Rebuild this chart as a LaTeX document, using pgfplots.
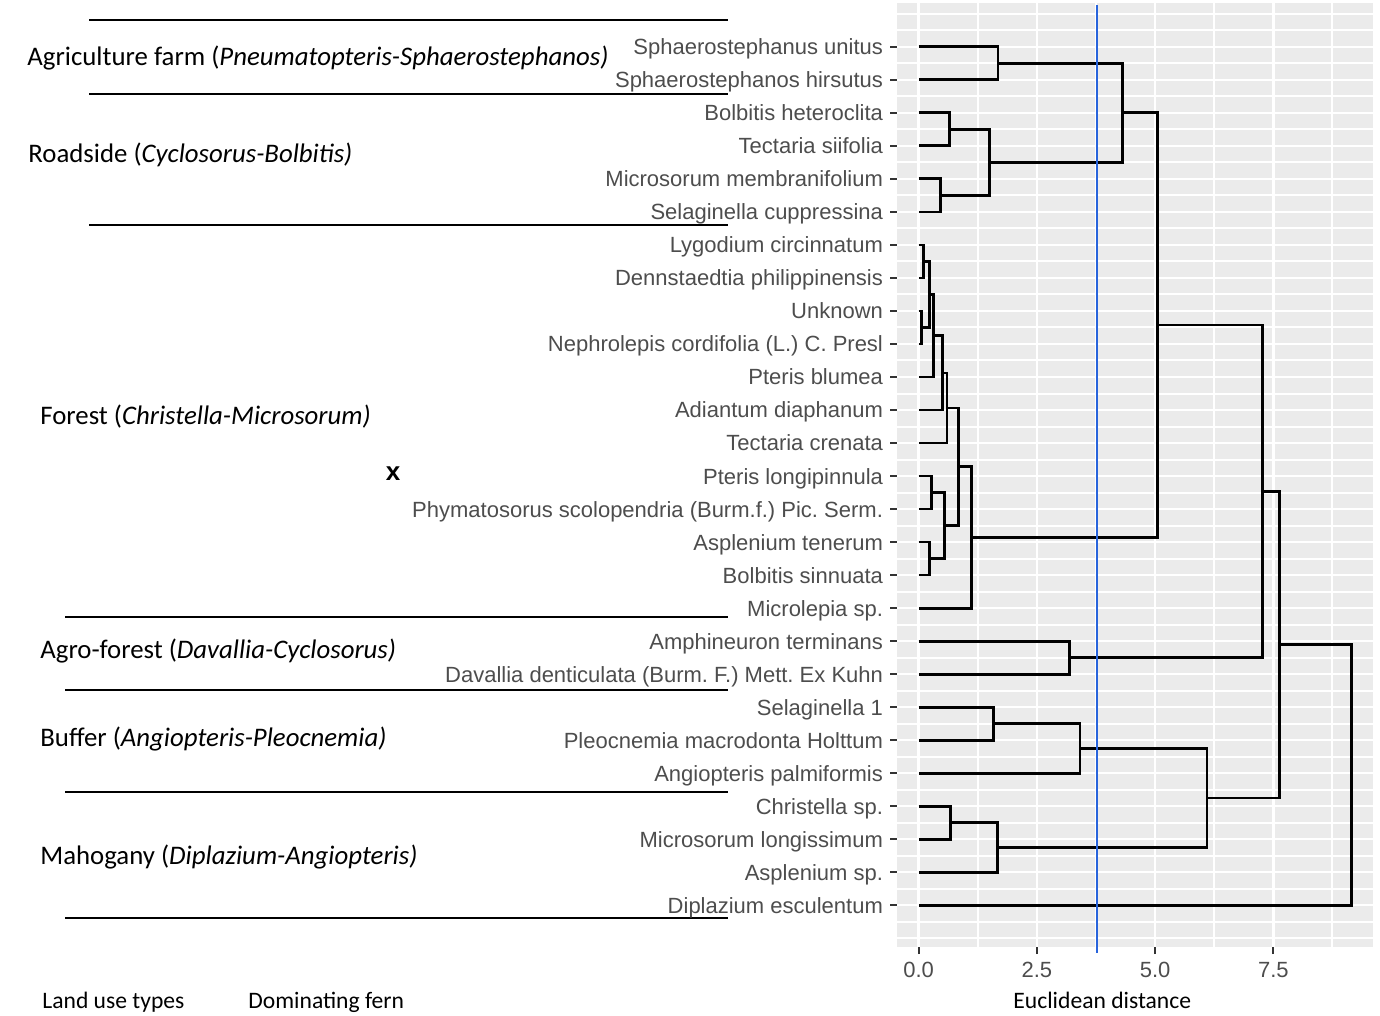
\documentclass[border=0pt]{standalone}
\usepackage{pgfplots}
\pgfplotsset{compat=1.18}
\usepackage{fontspec}
\setmainfont{Liberation Sans}
\newfontfamily\calib{Carlito}
\definecolor{panel}{RGB}{235,235,235}
\definecolor{labgray}{RGB}{77,77,77}
\definecolor{tickgray}{RGB}{51,51,51}
\definecolor{cutblue}{RGB}{40,100,220}
\pgfplotsset{dend/.style={black, line width=1.35pt, no marks}}
\frenchspacing

\begin{document}
\begin{tikzpicture}
\begin{scope}[x=0.5pt,y=-0.5pt]
\useasboundingbox (0,0) rectangle (1380,1016);
% separators between land use types
\draw[line width=0.8pt] (89,20) -- (728,20);
\draw[line width=0.8pt] (89,94) -- (728,94);
\draw[line width=0.8pt] (89,225) -- (728,225);
\draw[line width=0.8pt] (65,617) -- (728,617);
\draw[line width=0.8pt] (65,690) -- (728,690);
\draw[line width=0.8pt] (65,792) -- (728,792);
\draw[line width=0.8pt] (65,918) -- (728,918);
\tikzset{grp/.style={anchor=west, inner sep=0pt, font=\calib\fontsize{13.4}{16}\selectfont}}
\node[grp] at (27,58) {Agriculture farm (\textit{Pneumatopteris-Sphaerostephanos)}};
\node[grp] at (28,155) {Roadside (\textit{Cyclosorus-Bolbitis)}};
\node[grp] at (40,417) {Forest (\textit{Christella-Microsorum)}};
\node[grp] at (40,651) {Agro-forest (\textit{Davallia-Cyclosorus)}};
\node[grp] at (40,739) {Buffer (\textit{Angiopteris-Pleocnemia)}};
\node[grp] at (40,857) {Mahogany (\textit{Diplazium-Angiopteris)}};
\node[inner sep=0pt, font=\bfseries\fontsize{13}{13}\selectfont] at (393,474) {x};
\tikzset{bot/.style={anchor=west, inner sep=0pt, font=\calib\fontsize{11.8}{14}\selectfont}}
\node[bot] at (42,1002) {Land use types};
\node[bot] at (248,1002) {Dominating fern};
\node[bot] at (1013,1000) {Euclidean distance};
\end{scope}

\begin{axis}[
  at={(448.5pt,-473.5pt)}, anchor=south west,
  scale only axis, width=238pt, height=471.85pt,
  xmin=-0.4575, xmax=9.6075, ymin=-0.26, ymax=28.315,
  clip=false,
  axis background/.style={fill=panel},
  axis x line*=bottom, axis y line*=left,
  axis line style={draw=none},
  tick align=outside, major tick length=3.5pt, minor tick length=0pt,
  tick style={tickgray, line width=1pt},
  xtick={0,2.5,5,7.5}, xticklabels={0.0,2.5,5.0,7.5},
  minor xtick={1.25,3.75,6.25,8.75},
  ytick={1,...,27},
  minor ytick={0,0.5,...,28},
  xmajorgrids, xminorgrids, yminorgrids,
  major grid style={white, line width=1.2pt},
  minor grid style={white, line width=1pt},
  ticklabel style={font=\fontsize{11}{13}\selectfont, text=labgray,
    text height=1.6ex, text depth=0.4ex},
  yticklabel style={yshift=-0.8pt},
  yticklabels={Diplazium esculentum, Asplenium sp., Microsorum longissimum,
    Christella sp., Angiopteris palmiformis, Pleocnemia macrodonta Holttum,
    Selaginella 1, Davallia denticulata (Burm. F.) Mett. Ex Kuhn,
    Amphineuron terminans, Microlepia sp., Bolbitis sinnuata,
    Asplenium tenerum, Phymatosorus scolopendria (Burm.f.) Pic. Serm.,
    Pteris longipinnula, Tectaria crenata, Adiantum diaphanum,
    Pteris blumea, Nephrolepis cordifolia (L.) C. Presl, Unknown,
    Dennstaedtia philippinensis, Lygodium circinnatum,
    Selaginella cuppressina, Microsorum membranifolium,
    Tectaria siifolia, Bolbitis heteroclita,
    Sphaerostephanos hirsutus, Sphaerostephanus unitus},
]
% Agriculture farm / Roadside
\addplot[dend] coordinates {(0,27) (1.68,27) (1.68,26) (0,26)};
\addplot[dend] coordinates {(0,25) (0.65,25) (0.65,24) (0,24)};
\addplot[dend] coordinates {(0,23) (0.46,23) (0.46,22) (0,22)};
\addplot[dend] coordinates {(0.65,24.5) (1.50,24.5) (1.50,22.5) (0.46,22.5)};
\addplot[dend] coordinates {(1.68,26.5) (4.31,26.5) (4.31,23.5) (1.50,23.5)};
% Forest
\addplot[dend] coordinates {(0,21) (0.11,21) (0.11,20) (0,20)};
\addplot[dend] coordinates {(0,19) (0.06,19) (0.06,18) (0,18)};
\addplot[dend] coordinates {(0.11,20.5) (0.23,20.5) (0.23,18.5) (0.06,18.5)};
\addplot[dend] coordinates {(0.23,19.5) (0.31,19.5) (0.31,17) (0,17)};
\addplot[dend] coordinates {(0.31,18.25) (0.50,18.25) (0.50,16) (0,16)};
\addplot[dend] coordinates {(0.50,17.125) (0.60,17.125) (0.60,15) (0,15)};
\addplot[dend] coordinates {(0,14) (0.27,14) (0.27,13) (0,13)};
\addplot[dend] coordinates {(0,12) (0.23,12) (0.23,11) (0,11)};
\addplot[dend] coordinates {(0.27,13.5) (0.55,13.5) (0.55,11.5) (0.23,11.5)};
\addplot[dend] coordinates {(0.60,16.0625) (0.85,16.0625) (0.85,12.5) (0.55,12.5)};
\addplot[dend] coordinates {(0.85,14.28) (1.12,14.28) (1.12,10) (0,10)};
\addplot[dend] coordinates {(4.31,25) (5.05,25) (5.05,12.14) (1.12,12.14)};
% Agro-forest
\addplot[dend] coordinates {(0,9) (3.19,9) (3.19,8) (0,8)};
\addplot[dend] coordinates {(5.05,18.57) (7.27,18.57) (7.27,8.5) (3.19,8.5)};
% Buffer / Mahogany
\addplot[dend] coordinates {(0,7) (1.58,7) (1.58,6) (0,6)};
\addplot[dend] coordinates {(1.58,6.5) (3.41,6.5) (3.41,5) (0,5)};
\addplot[dend] coordinates {(0,4) (0.67,4) (0.67,3) (0,3)};
\addplot[dend] coordinates {(0.67,3.5) (1.66,3.5) (1.66,2) (0,2)};
\addplot[dend] coordinates {(3.41,5.75) (6.10,5.75) (6.10,2.75) (1.66,2.75)};
\addplot[dend] coordinates {(7.27,13.535) (7.63,13.535) (7.63,4.25) (6.10,4.25)};
\addplot[dend] coordinates {(7.63,8.89) (9.15,8.89) (9.15,1) (0,1)};
% cut-off line
\addplot[color=cutblue, line width=1pt, no marks] coordinates {(3.78,-0.43) (3.78,28.26)};
\end{axis}
\end{tikzpicture}
\end{document}
